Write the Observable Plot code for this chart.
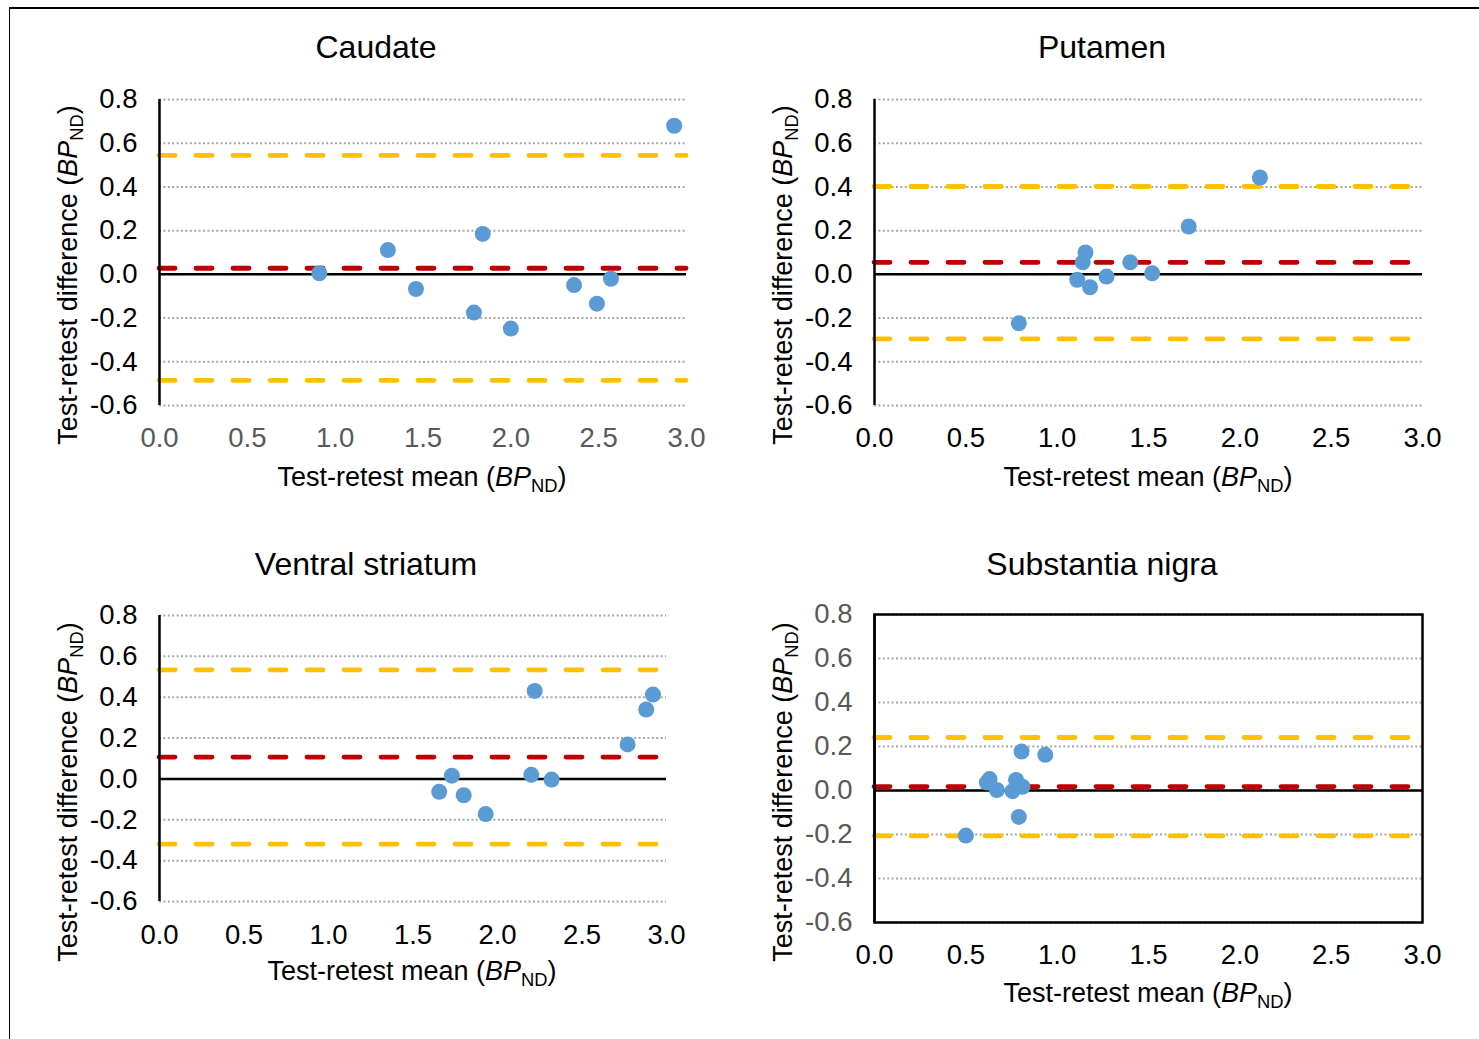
<!DOCTYPE html>
<html><head><meta charset="utf-8">
<script src="https://cdn.jsdelivr.net/npm/d3@7"></script>
<script src="https://cdn.jsdelivr.net/npm/@observablehq/plot@0.6"></script>
<style>
body{margin:0;background:#fff;}
#root{position:relative;width:1479px;height:1039px;overflow:hidden;font-family:Arial,"Liberation Sans",sans-serif;background:#fff;color:#000;}
#root svg{position:absolute;left:0;top:0;}
.title{position:absolute;font-size:32px;white-space:nowrap;transform:translate(-50%,-50%);line-height:1;}
.xlab,.ylab{position:absolute;font-size:27px;white-space:nowrap;line-height:1;}
.xlab{transform:translate(-50%,-50%);}
.ylab{transform:translate(-50%,-50%) rotate(-90deg);}
.sub{font-size:0.68em;position:relative;top:0.32em;}
.bline{position:absolute;background:#000;}
</style></head>
<body><div id="root"></div>
<script>
// ---- data ----
const xTicks = [0, 0.5, 1, 1.5, 2, 2.5, 3];
const yTicks = [-0.6, -0.4, -0.2, 0, 0.2, 0.4, 0.6, 0.8];
const panelNames = ["Caudate", "Putamen", "Ventral striatum", "Substantia nigra"];

const caudateMean = [0.91, 1.30, 1.46, 1.84, 1.79, 2.00, 2.36, 2.49, 2.57, 2.93];
const caudateDiff = [0.005, 0.111, -0.067, 0.185, -0.175, -0.248, -0.049, -0.134, -0.020, 0.680];

const putamenMean = [0.79, 1.11, 1.14, 1.155, 1.18, 1.27, 1.40, 1.52, 1.72, 2.11];
const putamenDiff = [-0.224, -0.025, 0.055, 0.100, -0.059, -0.010, 0.055, 0.005, 0.219, 0.443];

const ventralMean = [1.655, 1.73, 1.80, 1.93, 2.22, 2.20, 2.32, 2.77, 2.88, 2.92];
const ventralDiff = [-0.063, 0.016, -0.080, -0.172, 0.431, 0.020, -0.003, 0.169, 0.340, 0.413];

const nigraMean = [0.50, 0.615, 0.63, 0.67, 0.755, 0.775, 0.81, 0.79, 0.805, 0.935];
const nigraDiff = [-0.205, 0.036, 0.052, 0.002, -0.003, 0.048, 0.017, -0.120, 0.177, 0.162];

const meanBias = [0.028, 0.055, 0.107, 0.018];
const upperLoA = [0.544, 0.402, 0.534, 0.241];
const lowerLoA = [-0.485, -0.295, -0.319, -0.206];

// ---- layout ----
const W = 1479, H = 1039;
const panels = [
  {mean: caudateMean, diff: caudateDiff, box: [159, 686, 99, 405], xColor: "#595959", yColor: "#000", frame: false, xPad: 22,
   title: [376, 47], xlab: [422, 477], ylab: [68, 275]},
  {mean: putamenMean, diff: putamenDiff, box: [874, 1422, 99, 405], xColor: "#000", yColor: "#000", frame: false, xPad: 22,
   title: [1102, 47], xlab: [1148, 477], ylab: [783, 275]},
  {mean: ventralMean, diff: ventralDiff, box: [159, 666, 615, 901], xColor: "#000", yColor: "#000", frame: false, xPad: 23,
   title: [366, 564], xlab: [412, 971], ylab: [68, 792]},
  {mean: nigraMean, diff: nigraDiff, box: [874, 1422, 614, 922], xColor: "#000", yColor: "#595959", frame: true, xPad: 22,
   title: [1102, 564], xlab: [1148, 993], ylab: [783, 792]}
];

const root = document.getElementById("root");
const fmt = d => d.toFixed(1);
const dash = "16,21";

panels.forEach((p, i) => {
  const [l, r, t, b] = p.box;
  const pts = p.mean.map((m, j) => ({x: m, y: p.diff[j]}));
  const marks = [
    Plot.ruleY(yTicks, {stroke: "#a6a6a6", strokeWidth: 2, strokeDasharray: "2,2.4"}),
    Plot.ruleY([upperLoA[i], lowerLoA[i]], {stroke: "#FFC000", strokeWidth: 4.8, strokeDasharray: dash, strokeLinecap: "round"}),
    Plot.ruleY([meanBias[i]], {stroke: "#C00000", strokeWidth: 4.8, strokeDasharray: dash, strokeLinecap: "round"}),
    Plot.ruleY([0], {stroke: "#000", strokeWidth: 2.5}),
    Plot.ruleX([0], {stroke: "#000", strokeWidth: 2.5}),
    Plot.axisY({ticks: yTicks, tickFormat: fmt, tickSize: 0, tickPadding: 22, fontSize: 27.5, color: p.yColor, label: null}),
    Plot.axisX({ticks: xTicks, tickFormat: fmt, tickSize: 0, tickPadding: p.xPad, fontSize: 27.5, color: p.xColor, label: null}),
    Plot.dot(pts, {x: "x", y: "y", r: 8, fill: "#5B9BD5"})
  ];
  if (p.frame) marks.push(Plot.frame({stroke: "#000", strokeWidth: 2.5}));
  const svg = Plot.plot({
    width: W, height: H,
    marginLeft: l, marginRight: W - r, marginTop: t, marginBottom: H - b,
    x: {domain: [0, 3]},
    y: {domain: [-0.6, 0.8]},
    style: {background: "transparent", fontFamily: "Arial, 'Liberation Sans', sans-serif", maxWidth: "none", overflow: "visible"},
    marks
  });
  root.appendChild(svg);

  const tt = document.createElement("div");
  tt.className = "title";
  tt.style.left = p.title[0] + "px"; tt.style.top = p.title[1] + "px";
  tt.textContent = panelNames[i];
  root.appendChild(tt);

  const xl = document.createElement("div");
  xl.className = "xlab";
  xl.style.left = p.xlab[0] + "px"; xl.style.top = p.xlab[1] + "px";
  xl.innerHTML = 'Test-retest mean (<i>BP</i><span class="sub">ND</span>)';
  root.appendChild(xl);

  const yl = document.createElement("div");
  yl.className = "ylab";
  yl.style.left = p.ylab[0] + "px"; yl.style.top = p.ylab[1] + "px";
  yl.innerHTML = 'Test-retest difference (<i>BP</i><span class="sub">ND</span>)';
  root.appendChild(yl);
});

// figure border (top and left)
const borderTop = document.createElement("div");
borderTop.className = "bline";
Object.assign(borderTop.style, {left: "9px", top: "7px", width: (W - 9) + "px", height: "1.5px"});
root.appendChild(borderTop);
const borderLeft = document.createElement("div");
borderLeft.className = "bline";
Object.assign(borderLeft.style, {left: "8.5px", top: "7px", width: "1.5px", height: (H - 7) + "px"});
root.appendChild(borderLeft);
</script>
</body></html>
